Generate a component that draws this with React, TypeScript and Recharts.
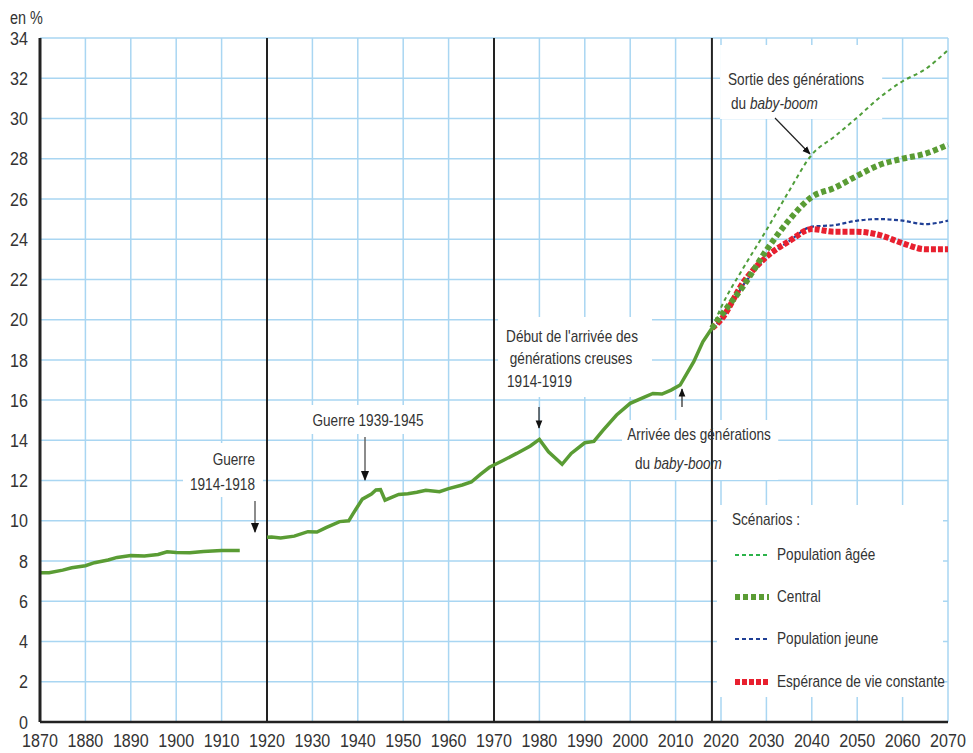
import React from "react";
import { LineChart, Line, XAxis, YAxis, CartesianGrid, ReferenceLine, ReferenceArea } from "recharts";

// historical share (en %)
const histYearsA = [1870, 1872, 1875, 1877, 1880, 1882, 1885, 1887, 1890, 1893, 1896, 1898, 1900, 1903, 1906, 1910, 1914];
const histValuesA = [7.42, 7.42, 7.55, 7.67, 7.77, 7.92, 8.05, 8.18, 8.27, 8.25, 8.33, 8.46, 8.42, 8.41, 8.48, 8.52, 8.53];

const histYearsB = [
  1920, 1921, 1923, 1926, 1929, 1931, 1933, 1936, 1938, 1939, 1941, 1943, 1944, 1945, 1946, 1949, 1951, 1953, 1955,
  1958, 1960, 1963, 1965, 1967, 1969, 1972, 1975, 1978, 1980, 1982, 1985, 1987, 1990, 1992, 1994, 1997, 2000, 2003,
  2005, 2007, 2009, 2011, 2014, 2016, 2018,
];
const histValuesB = [
  9.18, 9.2, 9.15, 9.24, 9.46, 9.44, 9.66, 9.96, 10.0, 10.37, 11.08, 11.33, 11.53, 11.55, 11.03, 11.31, 11.35, 11.42,
  11.52, 11.45, 11.6, 11.78, 11.93, 12.31, 12.66, 13.0, 13.35, 13.72, 14.05, 13.43, 12.81, 13.35, 13.88, 13.95, 14.5,
  15.26, 15.84, 16.14, 16.33, 16.3, 16.5, 16.75, 17.91, 18.9, 19.57,
];

// projections
const projYears = [2018, 2020, 2025, 2030, 2035, 2040, 2045, 2050, 2055, 2060, 2065, 2070];
const ageeValues = [19.57, 20.6, 22.6, 24.45, 26.4, 28.2, 29.1, 30.05, 31.05, 31.85, 32.45, 33.4];
const centralValues = [19.57, 20.2, 21.7, 23.45, 24.95, 26.1, 26.55, 27.15, 27.7, 28.0, 28.25, 28.7];
const jeuneValues = [19.57, 20.0, 21.75, 23.05, 23.9, 24.62, 24.7, 24.92, 25.0, 24.92, 24.75, 24.92];
const esperanceValues = [19.57, 20.0, 21.88, 23.12, 23.9, 24.5, 24.37, 24.37, 24.2, 23.8, 23.5, 23.5];

const xTicks = [1870, 1880, 1890, 1900, 1910, 1920, 1930, 1940, 1950, 1960, 1970, 1980, 1990, 2000, 2010, 2020, 2030, 2040, 2050, 2060, 2070];
const yTicks = [0, 2, 4, 6, 8, 10, 12, 14, 16, 18, 20, 22, 24, 26, 28, 30, 32, 34];
const breakYears = [1920, 1970, 2018];

// white backgrounds behind the notes and the legend: [x1, x2, y1, y2] in data units
const noteBoxes = [
  [1901.5, 1919.1, 11.18, 13.87],
  [1928.4, 1955.9, 14.31, 15.76],
  [1970.9, 2004.8, 16.15, 20.13],
  [1998.2, 2032.6, 12.03, 15.01],
  [2019.8, 2055.5, 29.97, 33.65],
  [2019.1, 2068.9, 1.24, 10.79],
];

const toRows = (years: number[], values: number[]) => years.map((year, i) => ({ year, v: values[i] }));

const font = "'Liberation Sans', Arial, sans-serif";
const textColor = "#333";
const gridColor = "#a9d6f2";
const green = "#5a9c34";
const squeeze = 0.8;

const XTick = ({ x, y, payload }: any) => (
  <text transform={`translate(${x},${y}) scale(0.87,1)`} textAnchor="middle" dy="0.71em" fill={textColor} fontSize={18.5} fontFamily={font}>
    {payload.value}
  </text>
);
const YTick = ({ x, y, payload }: any) => (
  <text transform={`translate(${x},${y}) scale(0.87,1)`} textAnchor="end" dy="0.36em" fill={textColor} fontSize={18.5} fontFamily={font}>
    {payload.value}
  </text>
);

// text helper: anchor x (left / center / right), visual centre y
function T({ x, y, align = "left", size = 17, children }: { x: number; y: number; align?: string; size?: number; children: React.ReactNode }) {
  const shift = align === "center" ? " translateX(-50%)" : align === "right" ? " translateX(-100%)" : "";
  return (
    <div
      style={{
        position: "absolute", left: x, top: y - 10, lineHeight: "20px", fontSize: size, color: textColor,
        whiteSpace: "nowrap", transform: `scaleX(${squeeze})${shift}`, transformOrigin: "0 0",
      }}
    >
      {children}
    </div>
  );
}

const legendItems = [
  { label: "Population âgée", color: "#2cb34a", width: 2, dash: "4 3" },
  { label: "Central", color: green, width: 6, dash: "5 3" },
  { label: "Population jeune", color: "#1f3f95", width: 2, dash: "4 3" },
  { label: "Espérance de vie constante", color: "#e8202f", width: 6, dash: "5 2" },
];

export default function App() {
  return (
    <div style={{ position: "absolute", left: 0, top: 0, width: 973, height: 753, fontFamily: font, background: "#fff" }}>
      <LineChart width={973} height={753} margin={{ top: 38, right: 25, bottom: 0, left: 0 }}>
        <CartesianGrid stroke={gridColor} strokeWidth={1.5} />
        <XAxis
          dataKey="year" type="number" domain={[1870, 2070]} ticks={xTicks} height={31}
          axisLine={{ stroke: "#222", strokeWidth: 2.5 }} tickLine={false} tickSize={0} tickMargin={12}
          tick={<XTick />} interval={0} allowDuplicatedCategory={false}
        />
        <YAxis
          type="number" domain={[0, 34]} ticks={yTicks} width={40}
          axisLine={{ stroke: "#222", strokeWidth: 3 }} tickLine={false} tickSize={0} tickMargin={12}
          tick={<YTick />} interval={0}
        />
        {breakYears.map((y) => (
          <ReferenceLine key={y} x={y} stroke="#222" strokeWidth={2} />
        ))}
        {noteBoxes.map(([x1, x2, y1, y2], i) => (
          <ReferenceArea key={i} x1={x1} x2={x2} y1={y1} y2={y2} fill="#fff" fillOpacity={1} stroke="none" ifOverflow="visible" />
        ))}
        <Line data={toRows(projYears, jeuneValues)} dataKey="v" type="monotone" stroke="#1f3f95" strokeWidth={2.2} strokeDasharray="4 2.5" dot={false} isAnimationActive={false} />
        <Line data={toRows(projYears, esperanceValues)} dataKey="v" type="monotone" stroke="#e8202f" strokeWidth={6} strokeDasharray="5 2" dot={false} isAnimationActive={false} />
        <Line data={toRows(projYears, ageeValues)} dataKey="v" type="monotone" stroke="#4f9e3a" strokeWidth={2} strokeDasharray="4 3.5" dot={false} isAnimationActive={false} />
        <Line data={toRows(projYears, centralValues)} dataKey="v" type="monotone" stroke={green} strokeWidth={6} strokeDasharray="5 3" dot={false} isAnimationActive={false} />
        <Line data={toRows(histYearsA, histValuesA)} dataKey="v" type="linear" stroke={green} strokeWidth={3.5} dot={false} isAnimationActive={false} />
        <Line data={toRows(histYearsB, histValuesB)} dataKey="v" type="linear" stroke={green} strokeWidth={3.5} dot={false} isAnimationActive={false} />
      </LineChart>

      <T x={10} y={18} size={18}>en %</T>

      <T x={255} y={460} align="right">Guerre</T>
      <T x={255} y={485} align="right">1914-1918</T>
      <T x={367.5} y={420.5} align="center">Guerre 1939-1945</T>
      <T x={571.5} y={336.5} align="center">Début de l'arrivée des</T>
      <T x={571} y={358.5} align="center">générations creuses</T>
      <T x={507} y={381.5}>1914-1919</T>
      <T x={698.5} y={435} align="center">Arrivée des générations</T>
      <T x={635} y={464}>du <i>baby-boom</i></T>
      <T x={728} y={79.5}>Sortie des générations</T>
      <T x={731} y={103.5}>du <i>baby-boom</i></T>

      {/* legend */}
      <T x={731.5} y={520}>Scénarios :</T>
      {legendItems.map((it, i) => (
        <React.Fragment key={it.label}>
          <svg width={34} height={10} style={{ position: "absolute", left: 735, top: 550 + i * 42.2 }}>
            <line x1={0} y1={5} x2={34} y2={5} stroke={it.color} strokeWidth={it.width} strokeDasharray={it.dash} />
          </svg>
          <T x={776.5} y={555 + i * 42.2}>{it.label}</T>
        </React.Fragment>
      ))}

      {/* arrows */}
      <svg width={973} height={753} style={{ position: "absolute", left: 0, top: 0, pointerEvents: "none" }}>
        <defs>
          <marker id="ah" viewBox="0 0 10 10" refX="9" refY="5" markerWidth="7" markerHeight="7" orient="auto">
            <path d="M0,1 L10,5 L0,9 z" fill="#111" />
          </marker>
        </defs>
        <line x1={255} y1={501} x2={255} y2={532} stroke="#666" strokeWidth={1.5} markerEnd="url(#ah)" />
        <line x1={365} y1={437} x2={365} y2={480} stroke="#666" strokeWidth={1.5} markerEnd="url(#ah)" />
        <line x1={539} y1={407} x2={539} y2={428} stroke="#222" strokeWidth={1.2} markerEnd="url(#ah)" />
        <line x1={682} y1={407} x2={682} y2={389} stroke="#222" strokeWidth={1.2} markerEnd="url(#ah)" />
        <line x1={775} y1={118} x2={810} y2={154} stroke="#222" strokeWidth={1.2} markerEnd="url(#ah)" />
      </svg>
    </div>
  );
}
